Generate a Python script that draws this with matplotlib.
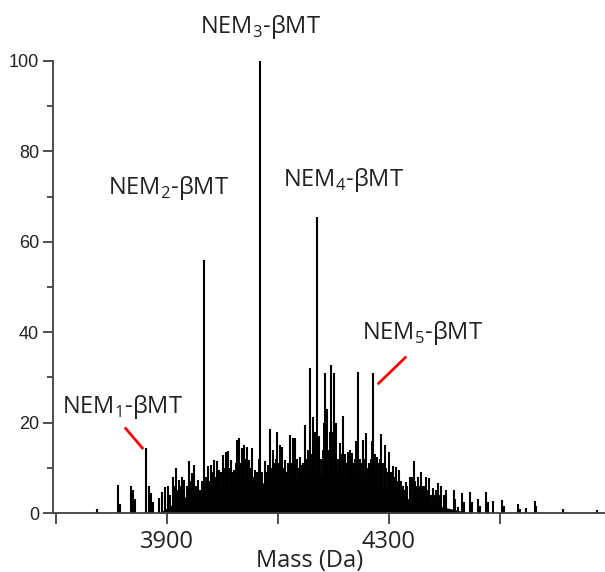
import matplotlib
matplotlib.use('Agg')
import matplotlib.pyplot as plt

plt.rcParams['mathtext.fontset'] = 'custom'
plt.rcParams['mathtext.rm'] = 'Open Sans'

# resolved peaks: position (Da) and relative intensity (%)
peak_mass = [3774, 3812, 3815, 3836, 3840, 3843, 3863, 3868, 3871, 3875,
             3886, 3892, 3896, 3902, 3911, 3916, 3922, 3928, 3932, 3940,
             3945, 3949, 3956, 3967, 3974, 3979, 3985, 3990, 3995, 4001,
             4006, 4010, 4015, 4021, 4026, 4030, 4035, 4039, 4044, 4048,
             4054, 4059, 4069, 4077, 4083, 4087, 4092, 4099, 4104, 4108,
             4113, 4123, 4128, 4132, 4140, 4144, 4149, 4158, 4163, 4170,
             4175, 4185, 4189, 4197, 4201, 4206, 4212, 4218, 4227, 4230,
             4234, 4245, 4253, 4259, 4265, 4272, 4279, 4287, 4293, 4301,
             4308, 4314, 4319, 4331, 4338, 4345, 4353, 4359, 4367, 4373,
             4380, 4389, 4395, 4399, 4403, 4417, 4420, 4425, 4432, 4435,
             4447, 4450, 4461, 4464, 4476, 4479, 4489, 4505, 4508, 4534,
             4537, 4547, 4563, 4566, 4614, 4676]
peak_int = [1.0, 6.2, 2.0, 6.0, 5.0, 3.0, 14.3, 6.0, 4.5, 2.5,
            3.3, 4.7, 5.8, 6.0, 8.0, 10.0, 7.3, 8.0, 7.3, 11.4,
            8.8, 10.6, 7.3, 56.0, 10.4, 10.6, 11.7, 11.6, 9.5, 12.8,
            13.6, 13.8, 11.7, 9.5, 16.2, 16.7, 14.4, 15.0, 14.7, 11.7,
            14.3, 9.5, 100.0, 11.4, 10.6, 18.5, 13.9, 18.0, 15.0, 14.7,
            11.7, 17.3, 16.7, 16.7, 12.5, 10.6, 19.5, 32.0, 21.3, 65.5,
            17.0, 30.9, 23.0, 32.7, 30.9, 20.0, 15.5, 21.4, 13.6, 13.9,
            13.2, 31.3, 16.2, 17.6, 11.0, 31.0, 12.5, 17.5, 15.0, 13.6,
            10.3, 10.1, 9.5, 6.9, 8.0, 11.6, 8.0, 9.1, 8.0, 7.7,
            5.5, 6.6, 6.0, 4.0, 5.2, 5.1, 3.0, 1.4, 4.5, 2.5,
            4.7, 2.5, 3.0, 1.5, 4.7, 2.5, 2.7, 2.9, 1.5, 1.9,
            1.0, 1.2, 2.7, 1.5, 0.9, 0.7]

# smaller peaks filling the dense envelope
minor_mass = [3905, 3913, 3919, 3925, 3936, 3942, 3952, 3960, 3963, 3971,
              3976, 3982, 3987, 3993, 3998, 4003, 4008, 4012, 4018, 4024,
              4028, 4033, 4037, 4042, 4046, 4051, 4057, 4063, 4066, 4072,
              4080, 4085, 4090, 4095, 4097, 4102, 4106, 4111, 4116, 4119,
              4126, 4130, 4135, 4138, 4142, 4146, 4152, 4155, 4160, 4166,
              4168, 4173, 4178, 4181, 4183, 4187, 4192, 4194, 4199, 4203,
              4209, 4215, 4221, 4224, 4237, 4240, 4242, 4248, 4250, 4256,
              4262, 4268, 4270, 4275, 4277, 4282, 4285, 4290, 4296, 4298,
              4304, 4306, 4311, 4317, 4322, 4325, 4328, 4334, 4341, 4343,
              4348, 4350, 4356, 4362, 4364, 4370, 4376, 4383, 4386, 4392]
minor_int = [4, 6, 5, 6, 6, 7, 6, 5, 7, 8,
             7, 9, 8, 8, 9, 10, 9, 10, 9, 11,
             10, 11, 10, 12, 10, 10, 8, 9, 12, 9,
             9, 9, 10, 11, 12, 11, 10, 10, 9, 11,
             11, 11, 12, 10, 9, 11, 12, 14, 13, 14,
             18, 14, 12, 14, 20, 16, 14, 18, 18, 15,
             12, 13, 13, 11, 11, 12, 16, 12, 11, 12,
             10, 12, 16, 13, 10, 11, 12, 11, 10, 9,
             9, 8, 8, 7, 7, 6, 5, 6, 7, 8,
             7, 6, 6, 6, 6, 5, 4, 4, 5, 4]

# unresolved background under the envelope
floor_mass = [3887, 3905, 3923, 3941, 3959, 3977, 3995, 4014, 4032, 4050,
              4068, 4086, 4104, 4122, 4140, 4158, 4176, 4194, 4212, 4230,
              4248, 4266, 4284, 4302, 4320, 4338, 4356, 4374, 4392, 4410,
              4428, 4446]
floor_int = [0.0, 1.5, 3.0, 4.0, 4.5, 5.0, 5.5, 6.0, 6.5, 6.5,
             6.5, 7.0, 7.0, 7.5, 7.5, 8.0, 8.0, 8.0, 8.0, 8.0,
             7.5, 7.0, 6.0, 5.0, 4.0, 3.0, 2.5, 2.0, 1.5, 1.0,
             0.5, 0.0]

labels = ['NEM$_{1}$-βMT', 'NEM$_{2}$-βMT', 'NEM$_{3}$-βMT',
          'NEM$_{4}$-βMT', 'NEM$_{5}$-βMT']
label_x = [3821, 3904, 4069, 4218, 4361]
label_y = [23.5, 71.9, 107.5, 73.7, 39.8]

fig = plt.figure(figsize=(6.05, 5.72), dpi=100)
ax = fig.add_axes([0.0876, 0.1031, 0.9124, 0.7903])

ax.fill_between(floor_mass, 0, floor_int, color='black', lw=0)
ax.vlines(minor_mass, 0, minor_int, color='black', lw=1.4)
ax.vlines(peak_mass, 0, peak_int, color='black', lw=1.5)

for s, x, y in zip(labels, label_x, label_y):
    ax.text(x, y, s, ha='center', va='center', fontsize=17,
            family='Open Sans', color='#222222', clip_on=False)

# red pointers for the small NEM1 / NEM5 peaks
ax.plot([3826, 3856], [18.7, 14.4], color='red', lw=2)
ax.plot([4330, 4282], [34.4, 28.7], color='red', lw=2)

ax.set_xlim(3695, 4690)
ax.set_ylim(0, 100)

for side in ('top', 'right'):
    ax.spines[side].set_visible(False)
for side in ('left', 'bottom'):
    ax.spines[side].set_color('#404040')
    ax.spines[side].set_linewidth(1.3)

ax.set_xticks([3700, 3900, 4100, 4300, 4500])
ax.set_xticklabels(['', '3900', '', '4300', ''], family='Open Sans',
                   fontsize=17, color='#222222')
ax.set_yticks([0, 20, 40, 60, 80, 100])
ax.set_yticks([10, 30, 50, 70, 90], minor=True)
ax.tick_params(axis='y', which='major', length=7, width=1.3, color='#404040',
               labelsize=13, labelcolor='#222222', pad=3)
ax.tick_params(axis='y', which='minor', length=4, width=1.3, color='#404040')
ax.tick_params(axis='x', which='major', length=8, width=1.3, color='#404040',
               pad=4)
for t in ax.get_yticklabels():
    t.set_family('Liberation Sans')

ax.set_xlabel('Mass (Da)', family='Open Sans', fontsize=17, color='#222222',
              labelpad=0)
ax.xaxis.set_label_coords(0.465, -0.08)

fig.savefig('out.png', dpi=100)
